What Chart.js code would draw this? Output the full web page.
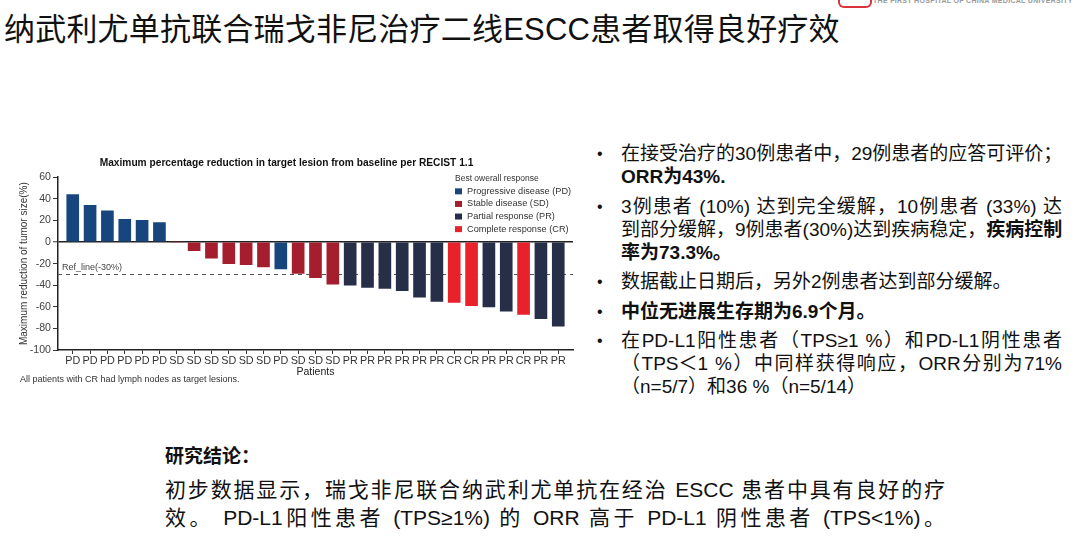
<!DOCTYPE html>
<html lang="zh">
<head>
<meta charset="utf-8">
<title>纳武利尤单抗联合瑞戈非尼治疗二线ESCC</title>
<script src="https://cdn.jsdelivr.net/npm/chart.js@4.4.1/dist/chart.umd.min.js"></script>
<style>
  html, body { margin: 0; padding: 0; }
  body {
    width: 1089px; height: 544px; position: relative; overflow: hidden;
    background: #fff; color: #111;
    font-family: "Liberation Sans", "Noto Sans CJK SC", sans-serif;
  }
  #logoMark { position: absolute; left: 838px; top: -3px; width: 30px; height: 9px;
    border: 2px solid #d8353a; border-top: none; border-radius: 0 0 6px 6px; }
  #logoText { position: absolute; left: 873px; top: -3px; font-size: 7px; font-weight: bold;
    color: #9a9a9a; letter-spacing: 0.3px; white-space: nowrap; }
  #title { position: absolute; left: 4px; top: 10px; font-size: 31px; line-height: 40px;
    letter-spacing: 0.2px; white-space: nowrap; color: #111; }
  #chartBox { position: absolute; left: 0; top: 150px; width: 580px; height: 240px; }
  #note { position: absolute; left: 20px; top: 373px; font-size: 9px; line-height: 12px; color: #333; white-space: nowrap; }
  #points { position: absolute; left: 597px; top: 142px; font-size: 19px; line-height: 23px; color: #111; }
  .pt { position: relative; margin-bottom: 6.5px; }
  .dot { position: absolute; left: 0; top: 0; font-size: 16px; }
  .txt { margin-left: 24px; width: 441px; white-space: nowrap; }
  .j { text-align: justify; text-align-last: justify; }
  #concl { position: absolute; left: 165px; top: 444px; color: #111; }
  #concl .head { font-size: 19px; line-height: 26px; font-weight: bold; margin-bottom: 6px; }
  #concl .line { font-size: 21px; line-height: 28px; width: 780px; white-space: nowrap; }
</style>
</head>
<body>
<div id="logoMark"></div>
<div id="logoText">THE FIRST HOSPITAL OF CHINA MEDICAL UNIVERSITY</div>
<div id="title">纳武利尤单抗联合瑞戈非尼治疗二线ESCC患者取得良好疗效</div>

<div id="chartBox"><canvas id="waterfallChart"></canvas></div>
<div id="note">All patients with CR had lymph nodes as target lesions.</div>

<div id="points">
  <div class="pt"><span class="dot">•</span><div class="txt">
    <div class="j">在接受治疗的30例患者中，29例患者的应答可评价；</div>
    <div><b>ORR为43%.</b></div>
  </div></div>
  <div class="pt"><span class="dot">•</span><div class="txt">
    <div class="j">3例患者 (10%) 达到完全缓解，10例患者 (33%) 达</div>
    <div class="j">到部分缓解，9例患者(30%)达到疾病稳定，<b>疾病控制</b></div>
    <div><b>率为73.3%。</b></div>
  </div></div>
  <div class="pt"><span class="dot">•</span><div class="txt">
    <div>数据截止日期后，另外2例患者达到部分缓解。</div>
  </div></div>
  <div class="pt"><span class="dot">•</span><div class="txt">
    <div><b>中位无进展生存期为6.9个月。</b></div>
  </div></div>
  <div class="pt"><span class="dot">•</span><div class="txt">
    <div class="j">在PD-L1阳性患者（TPS≥1 %）和PD-L1阴性患者</div>
    <div class="j">（TPS＜1 %）中同样获得响应，ORR分别为71%</div>
    <div>（n=5/7）和36 %（n=5/14）</div>
  </div></div>
</div>

<div id="concl">
  <div class="head">研究结论：</div>
  <div class="line j">初步数据显示，瑞戈非尼联合纳武利尤单抗在经治 ESCC 患者中具有良好的疗</div>
  <div class="line j">效。 PD-L1阳性患者 (TPS≥1%) 的 ORR 高于 PD-L1 阴性患者 (TPS&lt;1%)。</div>
</div>

<script>
// 每位患者的最佳总体疗效（按图中从左到右）
const patientResponse = ['PD','PD','PD','PD','PD','PD','SD','SD','SD','SD','SD','SD','PD',
  'SD','SD','SD','PR','PR','PR','PR','PR','PR','CR','CR','PR','PR','CR','PR','PR'];
// 靶病灶最大变化百分比 (%)
const tumorChange = [44, 34, 29, 21, 20, 18, 0, -8, -15, -20, -21, -23, -25,
  -29, -33, -39, -40, -42, -43, -45, -51, -55, -56, -59, -60, -64, -67, -71, -78];
const responseCodes = ['PD', 'SD', 'PR', 'CR'];
const responseNames = ['Progressive disease (PD)', 'Stable disease (SD)', 'Partial response (PR)', 'Complete response (CR)'];
const yTicks = [60, 40, 20, 0, -20, -40, -60, -80, -100];
const refLineValue = -30;
const refLineLabel = 'Ref_line(-30%)';
const legendTitle = 'Best owerall response';

// 颜色
const responseColor = { PD: '#17467f', SD: '#a41e2e', PR: '#272e47', CR: '#e8212b' };

Chart.defaults.font.family = '"Liberation Sans", Arial, sans-serif';
Chart.defaults.color = '#333';

// 参考线 -30%
const refLinePlugin = {
  id: 'refLine',
  beforeDatasetsDraw(chart) {
    const { ctx, chartArea, scales } = chart;
    const py = Math.round(scales.y.getPixelForValue(refLineValue)) + 0.5;
    ctx.save();
    ctx.strokeStyle = '#555';
    ctx.lineWidth = 1;
    ctx.setLineDash([4, 4]);
    ctx.beginPath();
    ctx.moveTo(chartArea.left, py);
    ctx.lineTo(chartArea.right, py);
    ctx.stroke();
    ctx.setLineDash([]);
    ctx.fillStyle = '#444';
    ctx.font = '9px "Liberation Sans", Arial, sans-serif';
    ctx.textBaseline = 'bottom';
    ctx.fillText(refLineLabel, chartArea.left + 4, py - 2);
    ctx.restore();
  }
};

// 右上角图例
const responseLegendPlugin = {
  id: 'responseLegend',
  afterDraw(chart) {
    const { ctx, chartArea } = chart;
    const x0 = chartArea.right - 118;
    const y0 = chartArea.top + 1.5;
    ctx.save();
    ctx.font = '8.5px "Liberation Sans", Arial, sans-serif';
    ctx.textBaseline = 'middle';
    ctx.fillStyle = '#333';
    ctx.fillText(legendTitle, x0, y0);
    responseCodes.forEach(function(code, i) {
      const y = y0 + 12.6 * (i + 1);
      ctx.fillStyle = responseColor[code];
      ctx.fillRect(x0, y - 3, 7, 6);
      ctx.fillStyle = '#333';
      ctx.font = '9.2px "Liberation Sans", Arial, sans-serif';
      ctx.fillText(responseNames[i], x0 + 12, y);
    });
    ctx.restore();
  }
};

const ctx = document.getElementById('waterfallChart').getContext('2d');
new Chart(ctx, {
  type: 'bar',
  data: {
    datasets: [{
      data: tumorChange.map((v, i) => ({ x: i, y: v })),
      backgroundColor: patientResponse.map(r => responseColor[r]),
      barThickness: 12,
    }]
  },
  options: {
    responsive: true,
    maintainAspectRatio: false,
    animation: false,
    layout: { padding: { left: 0, right: 7, top: 0, bottom: 12 } },
    plugins: {
      legend: { display: false },
      tooltip: { enabled: false },
      title: {
        display: true,
        text: 'Maximum percentage reduction in target lesion from baseline per RECIST 1.1',
        color: '#111',
        font: { size: 10.2, weight: 'bold' },
        padding: { top: 7, bottom: 8 }
      }
    },
    scales: {
      x: {
        type: 'linear',
        offset: false,
        min: -0.85,
        max: patientResponse.length - 1 + 0.85,
        afterBuildTicks: s => { s.ticks = patientResponse.map((_, i) => ({ value: i })); },
        afterFit: s => { s.height = 28; },
        ticks: {
          autoSkip: false, maxRotation: 0, padding: 1,
          color: '#333', font: { size: 10.8 },
          callback: v => patientResponse[v]
        },
        grid: { offset: false, drawOnChartArea: false, drawTicks: true, tickLength: 4, tickColor: '#333', tickWidth: 1 },
        border: { display: true, color: '#222', width: 1.5 },
        title: { display: true, text: 'Patients', color: '#222', font: { size: 10.5 }, padding: { top: 0, bottom: 0 } }
      },
      y: {
        min: -100,
        max: 60,
        afterBuildTicks: s => { s.ticks = yTicks.map(v => ({ value: v })); },
        afterFit: s => { s.width = 58; },
        ticks: { padding: 2, color: '#444', font: { size: 10.6 } },
        grid: {
          drawOnChartArea: true,
          color: c => (c.tick && c.tick.value === 0) ? '#222' : 'rgba(0,0,0,0)',
          lineWidth: c => (c.tick && c.tick.value === 0) ? 1.5 : 1,
          tickColor: '#333', tickLength: 5, tickWidth: 1
        },
        border: { display: true, color: '#222', width: 1.5 },
        title: { display: true, text: 'Maximum reduction of tumor size(%)', color: '#333', font: { size: 10 }, padding: { top: 18, bottom: 0 } }
      }
    }
  },
  plugins: [refLinePlugin, responseLegendPlugin]
});
</script>
</body>
</html>
